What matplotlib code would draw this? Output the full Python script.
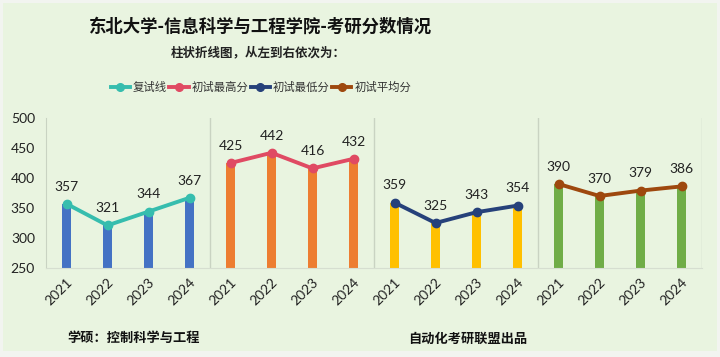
import matplotlib
matplotlib.use("Agg")
import matplotlib.pyplot as plt
from matplotlib.lines import Line2D
from matplotlib.patches import Rectangle

plt.rcParams['font.family'] = ['Noto Sans CJK SC', 'DejaVu Sans']

years = ["2021", "2022", "2023", "2024"]
series_names = ["复试线", "初试最高分", "初试最低分", "初试平均分"]
fushi = [357, 321, 344, 367]
chushi_max = [425, 442, 416, 432]
chushi_min = [359, 325, 343, 354]
chushi_avg = [390, 370, 379, 386]
all_series = [fushi, chushi_max, chushi_min, chushi_avg]

bar_colors = ["#4472C4", "#ED7D31", "#FFC000", "#70AD47"]
line_colors = ["#36BDAE", "#E04A63", "#26417A", "#9E480E"]

title = "东北大学-信息科学与工程学院-考研分数情况"
subtitle = "柱状折线图，从左到右依次为："
footer_left = "学硕：控制科学与工程"
footer_right = "自动化考研联盟出品"

bg = "#E9F4E0"
fig = plt.figure(figsize=(7.2, 3.57), dpi=100)
fig.patch.set_facecolor("#F2F4F0")
fig.patches.append(Rectangle((3/720, 6/357), 714/720, 348/357, transform=fig.transFigure,
                             facecolor=bg, edgecolor="none", zorder=-10))

ax = fig.add_axes([46/720, 1-268/357, 656/720, 150/357])
ax.set_facecolor("none")

n = len(years)
labels = []
for i, vals in enumerate(all_series):
    xs = [i * n + j for j in range(n)]
    ax.bar(xs, [v - 250 for v in vals], bottom=250, width=0.24, color=bar_colors[i], zorder=2)
    ax.plot(xs, vals, color=line_colors[i], lw=2.8, marker='o', ms=6, zorder=3,
            solid_capstyle='round')
    for x, v in zip(xs, vals):
        ax.annotate(str(v), (x, v), xytext=(0, 8), textcoords='offset points',
                    ha='center', va='bottom', fontsize=10, family='Lato', color='#222222')
    labels += years
    ax.axvline(i * n + n - 0.5, color='#C9D3C2', lw=1, zorder=1)

ax.set_xlim(-0.5, len(all_series) * n - 0.5)
ax.set_ylim(250, 500)
ax.set_yticks([250, 300, 350, 400, 450, 500])
ax.set_xticks(range(len(labels)))
ax.set_xticklabels(labels, rotation=45, ha='right', rotation_mode='anchor',
                   fontsize=10, family='Lato', color='#222222')
for t in ax.get_yticklabels():
    t.set_fontsize(10)
    t.set_family('Lato')
    t.set_color('#222222')
ax.tick_params(axis='both', length=0)
ax.tick_params(axis='y', pad=8)
ax.tick_params(axis='x', pad=6)
for s in ['top', 'right']:
    ax.spines[s].set_visible(False)
ax.spines['left'].set_color('#C9D3C2')
ax.spines['bottom'].set_color('#D6DED0')

fig.text(261/720, 1-27/357, title, ha='center', va='center', fontsize=12.5,
         fontweight='bold', color='#111111')
fig.text(258/720, 1-53/357, subtitle, ha='center', va='center', fontsize=9,
         fontweight='bold', color='#222222')

handles = [Line2D([0], [0], color=c, lw=2.8, marker='o', ms=5.5) for c in line_colors]
fig.legend(handles, series_names, loc='center', bbox_to_anchor=(261/720, 1-87/357),
           ncol=4, frameon=False, fontsize=8.2, handlelength=1.7, handletextpad=0.25,
           columnspacing=0.2, labelcolor='#333333')

fig.text(67/720, 1-338/357, footer_left, ha='left', va='center', fontsize=9.5,
         fontweight='bold', color='#111111')
fig.text(408/720, 1-339/357, footer_right, ha='left', va='center', fontsize=9.5,
         fontweight='bold', color='#111111')

fig.savefig("out.png", dpi=100, facecolor=fig.get_facecolor())
